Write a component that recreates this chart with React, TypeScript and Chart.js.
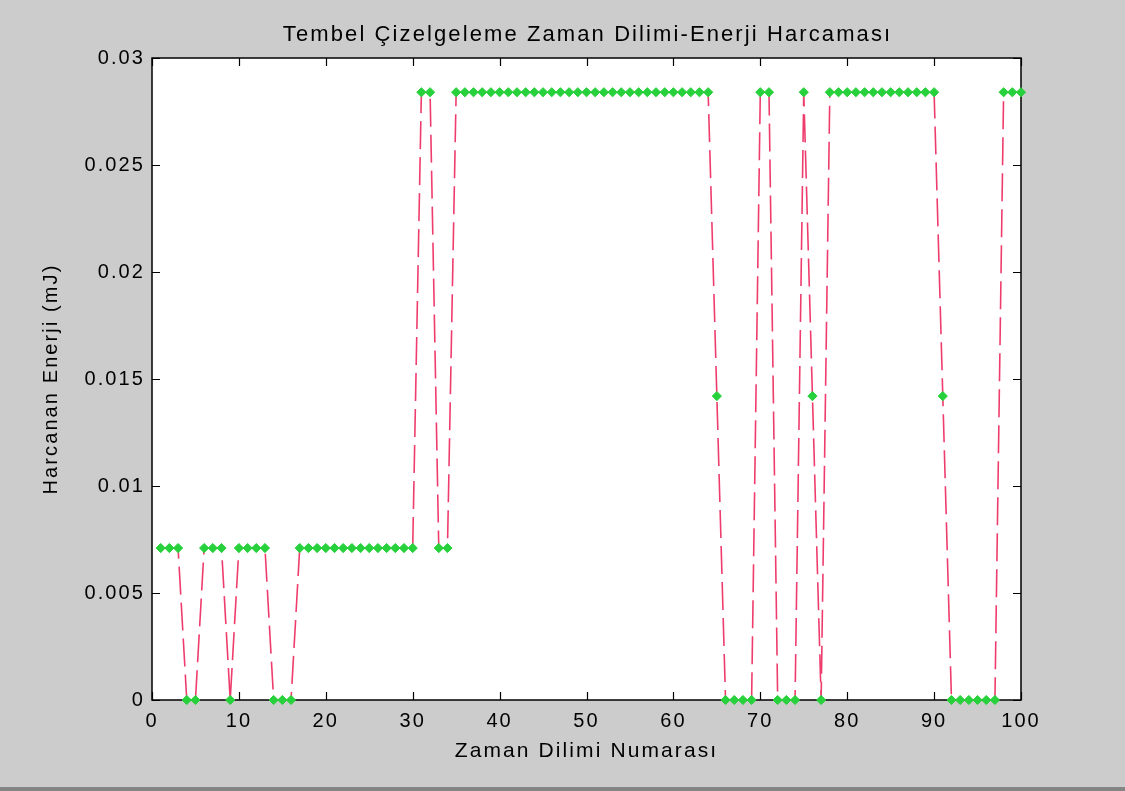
import React, { useEffect, useRef } from 'react';
import { Chart, registerables } from 'chart.js';

Chart.register(...registerables);

const chartTitle = 'Tembel Çizelgeleme Zaman Dilimi-Enerji Harcaması';
const xAxisTitle = 'Zaman Dilimi Numarası';
const yAxisTitle = 'Harcanan Enerji (mJ)';

const slots = [
  1, 2, 3, 4, 5, 6, 7, 8, 9, 10,
  11, 12, 13, 14, 15, 16, 17, 18, 19, 20,
  21, 22, 23, 24, 25, 26, 27, 28, 29, 30,
  31, 32, 33, 34, 35, 36, 37, 38, 39, 40,
  41, 42, 43, 44, 45, 46, 47, 48, 49, 50,
  51, 52, 53, 54, 55, 56, 57, 58, 59, 60,
  61, 62, 63, 64, 65, 66, 67, 68, 69, 70,
  71, 72, 73, 74, 75, 76, 77, 78, 79, 80,
  81, 82, 83, 84, 85, 86, 87, 88, 89, 90,
  91, 92, 93, 94, 95, 96, 97, 98, 99, 100,
];

const energy = [
  0.0071, 0.0071, 0.0071, 0, 0, 0.0071, 0.0071, 0.0071, 0, 0.0071,
  0.0071, 0.0071, 0.0071, 0, 0, 0, 0.0071, 0.0071, 0.0071, 0.0071,
  0.0071, 0.0071, 0.0071, 0.0071, 0.0071, 0.0071, 0.0071, 0.0071, 0.0071, 0.0071,
  0.0284, 0.0284, 0.0071, 0.0071, 0.0284, 0.0284, 0.0284, 0.0284, 0.0284, 0.0284,
  0.0284, 0.0284, 0.0284, 0.0284, 0.0284, 0.0284, 0.0284, 0.0284, 0.0284, 0.0284,
  0.0284, 0.0284, 0.0284, 0.0284, 0.0284, 0.0284, 0.0284, 0.0284, 0.0284, 0.0284,
  0.0284, 0.0284, 0.0284, 0.0284, 0.0142, 0, 0, 0, 0, 0.0284,
  0.0284, 0, 0, 0, 0.0284, 0.0142, 0, 0.0284, 0.0284, 0.0284,
  0.0284, 0.0284, 0.0284, 0.0284, 0.0284, 0.0284, 0.0284, 0.0284, 0.0284, 0.0284,
  0.0142, 0, 0, 0, 0, 0, 0, 0.0284, 0.0284, 0.0284,
];

const xTickValues = [0, 10, 20, 30, 40, 50, 60, 70, 80, 90, 100];
const yTickValues = [0, 0.005, 0.01, 0.015, 0.02, 0.025, 0.03];
const yTickLabels = ['0', '0.005', '0.01', '0.015', '0.02', '0.025', '0.03'];

const LINE_COLOR = '#ee3d6d';
const MARKER_COLOR = '#27d13b';
const FONT = "'Liberation Sans', Arial, sans-serif";
const SPACING = 2.1;

const framePlugin = {
  id: 'matlabFrame',
  beforeDraw(chart: any) {
    const ctx = chart.ctx;
    ctx.letterSpacing = SPACING + 'px';
    const { left, top, right, bottom } = chart.chartArea;
    ctx.save();
    ctx.fillStyle = '#cccccc';
    ctx.fillRect(0, 0, chart.width, chart.height);
    ctx.fillStyle = '#858585';
    ctx.fillRect(0, chart.height - 4, chart.width, 4);
    ctx.fillStyle = '#ffffff';
    ctx.fillRect(left, top, right - left, bottom - top);
    ctx.restore();
  },
  beforeDatasetsDraw(chart: any) {
    const ctx = chart.ctx;
    const { left, top, right, bottom } = chart.chartArea;
    const xs = chart.scales.x;
    const ys = chart.scales.y;
    const tl = 8;
    ctx.save();
    ctx.strokeStyle = '#000';
    ctx.lineWidth = 1.5;
    ctx.beginPath();
    ctx.rect(left, top, right - left, bottom - top);
    ctx.stroke();
    ctx.lineWidth = 1.2;
    ctx.beginPath();
    xTickValues.forEach((v) => {
      const px = Math.round(xs.getPixelForValue(v)) + 0.5;
      ctx.moveTo(px, bottom);
      ctx.lineTo(px, bottom - tl);
      ctx.moveTo(px, top);
      ctx.lineTo(px, top + tl);
    });
    yTickValues.forEach((v) => {
      const py = Math.round(ys.getPixelForValue(v)) + 0.5;
      ctx.moveTo(left, py);
      ctx.lineTo(left + tl, py);
      ctx.moveTo(right, py);
      ctx.lineTo(right - tl, py);
    });
    ctx.stroke();
    ctx.restore();
  },
  afterDraw(chart: any) {
    const ctx = chart.ctx;
    const { left, right } = chart.chartArea;
    ctx.save();
    ctx.font = `22px ${FONT}`;
    ctx.fillStyle = '#000';
    ctx.textAlign = 'center';
    ctx.textBaseline = 'alphabetic';
    ctx.fillText(chartTitle, (left + right) / 2 + SPACING / 2, 41);
    ctx.restore();
  },
};

export default function App() {
  const canvasRef = useRef<HTMLCanvasElement | null>(null);

  useEffect(() => {
    const canvas = canvasRef.current;
    if (!canvas) return;
    const chart = new Chart(canvas, {
      type: 'line',
      data: {
        datasets: [
          {
            data: slots.map((s, i) => ({ x: s, y: energy[i] })),
            borderColor: LINE_COLOR,
            borderWidth: 1.6,
            borderDash: [28, 8],
            fill: false,
            tension: 0,
            pointStyle: 'rectRot',
            pointRadius: 4.6,
            pointBackgroundColor: MARKER_COLOR,
            pointBorderColor: MARKER_COLOR,
            pointBorderWidth: 1,
            clip: false,
          } as any,
        ],
      },
      plugins: [framePlugin],
      options: {
        animation: false,
        responsive: false,
        events: [],
        layout: { padding: { left: 0, right: 104, top: 58, bottom: 0 } },
        font: { family: FONT },
        plugins: {
          legend: { display: false },
          tooltip: { enabled: false },
          title: { display: false },
        },
        scales: {
          x: {
            type: 'linear',
            min: 0,
            max: 100,
            afterBuildTicks: (s: any) => {
              s.ticks = xTickValues.map((v) => ({ value: v }));
            },
            afterFit: (s: any) => {
              s.height = 91;
            },
            grid: { display: false, drawTicks: false },
            border: { display: false },
            ticks: {
              autoSkip: false,
              maxRotation: 0,
              padding: 9,
              color: '#000',
              font: { family: FONT, size: 20 },
            },
            title: {
              display: true,
              text: xAxisTitle,
              color: '#000',
              font: { family: FONT, size: 21 },
              padding: { top: 0, bottom: 27 },
            },
          },
          y: {
            type: 'linear',
            min: 0,
            max: 0.03,
            afterBuildTicks: (s: any) => {
              s.ticks = yTickValues.map((v) => ({ value: v }));
            },
            afterFit: (s: any) => {
              s.width = 152;
            },
            grid: { display: false, drawTicks: false },
            border: { display: false },
            ticks: {
              autoSkip: false,
              padding: 7,
              color: '#000',
              font: { family: FONT, size: 20 },
              callback: (_v: any, i: number) => yTickLabels[i],
            },
            title: {
              display: true,
              text: yAxisTitle,
              color: '#000',
              font: { family: FONT, size: 20 },
              padding: { top: 39, bottom: 0 },
            },
          },
        },
      } as any,
    });
    return () => chart.destroy();
  }, []);

  return (
    <div
      style={{
        position: 'fixed',
        left: 0,
        top: 0,
        width: 1125,
        height: 791,
        background: '#cccccc',
        overflow: 'hidden',
      }}
    >
      <canvas ref={canvasRef} width={1125} height={791} style={{ display: 'block' }} />
    </div>
  );
}
